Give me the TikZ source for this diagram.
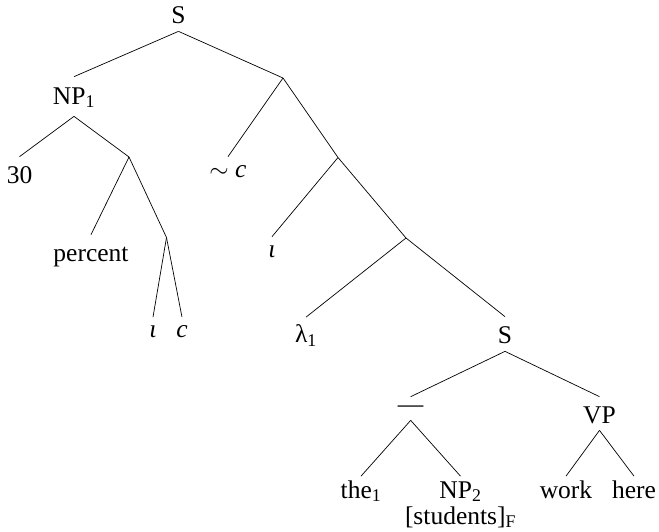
\documentclass[tikz,border=0pt]{standalone}
\usepackage{fontspec}
\setmainfont{Liberation Serif}
\begin{document}
\begin{tikzpicture}[x=1pt,y=-1pt,line width=0.7pt,
  txt/.style={anchor=base,inner sep=0pt,font=\fontsize{25.5}{22}\selectfont},
  lab/.style 2 args={txt,text height=#1,text depth=#2}]
\useasboundingbox (0,0) rectangle (659,531);
% nodes
\node[lab={18pt}{8pt}] (S0) at (178.5,23) {S};
\coordinate (A) at (283,78);
\node[lab={27pt}{12pt}] (NP1) at (74,104) {NP\textsubscript{1}};
\node[lab={26pt}{0pt}] (n30) at (19.5,183) {30};
\coordinate (B) at (129,157);
\node[lab={26pt}{0pt}] (pct) at (91,261) {percent};
\coordinate (C) at (166.5,237.5);
\node[lab={19.5pt}{0pt}] (iotaA) at (153,337) {\textit{ι}};
\node[lab={19.5pt}{0pt}] (cA) at (182,337) {\textit{c}};
\node[lab={20pt}{0pt}] (simc) at (228,177) {$\sim$ \textit{c}};
\coordinate (D) at (338,157.5);
\node[lab={20pt}{0pt}] (iotaB) at (272,257) {\textit{ι}};
\coordinate (E) at (406,238);
\node[lab={25pt}{0pt}] (lam) at (306,342.5) {λ\textsubscript{1}};
\node[lab={26pt}{8pt}] (S2) at (505,343) {S};
\node[lab={15pt}{8pt}] (bar) at (410.7,412) {—};
\node[lab={26pt}{7pt}] (VP) at (599.5,423) {VP};
\node[lab={21.5pt}{0pt}] (the) at (361,498) {the\textsubscript{1}};
\node[lab={21.5pt}{0pt}] (NP2) at (460.5,498) {NP\textsubscript{2}};
\node[lab={17pt}{5pt}] (stud) at (460.5,524) {[students]\textsubscript{F}};
\node[lab={21.5pt}{0pt}] (work) at (566,498) {work};
\node[lab={21.5pt}{0pt}] (here) at (634,498) {here};
% edges
\draw (S0.south) -- (NP1.north);
\draw (S0.south) -- (A);
\draw (NP1.south) -- (n30.north);
\draw (NP1.south) -- (B);
\draw (B) -- (pct.north);
\draw (B) -- (C);
\draw (C) -- (iotaA.north);
\draw (C) -- (cA.north);
\draw (A) -- (simc.north);
\draw (A) -- (D);
\draw (D) -- (iotaB.north);
\draw (D) -- (E);
\draw (E) -- (lam.north);
\draw (E) -- (S2.north);
\draw (S2.south) -- (bar.north);
\draw (S2.south) -- (VP.north);
\draw (bar.south) -- (the.north);
\draw (bar.south) -- (NP2.north);
\draw (VP.south) -- (work.north);
\draw (VP.south) -- (here.north);
\end{tikzpicture}
\end{document}
